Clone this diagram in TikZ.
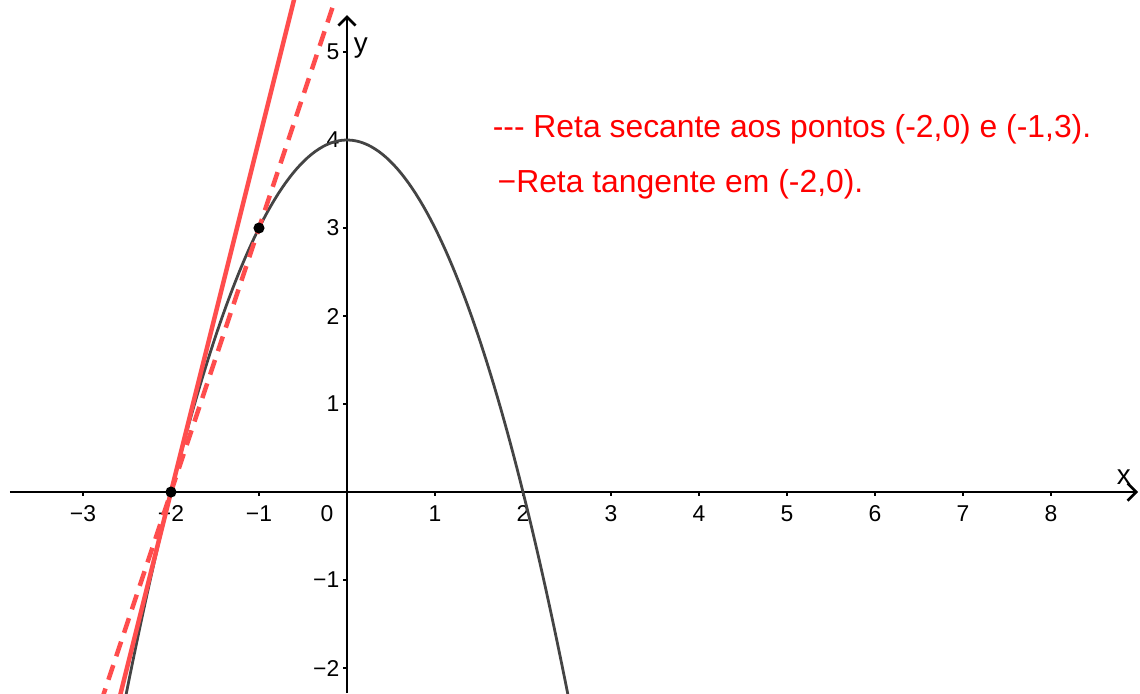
\documentclass[tikz,border=0pt]{standalone}
\usepackage{fontspec}
\setmainfont{Liberation Sans}
\usepackage{xcolor}
\usepackage{tikz}
\usetikzlibrary{arrows.meta}
\definecolor{curvegray}{RGB}{68,68,68}
\definecolor{linered}{RGB}{255,77,77}

\begin{document}
\begin{tikzpicture}[>={Straight Barb[length=2.8pt,width=5.6pt]},
    axis/.style={line width=0.85pt, ->},
    ticklabel/.style={font=\fontsize{7.4}{8}\selectfont, inner sep=0pt},
    axislabel/.style={font=\fontsize{9}{10}\selectfont, inner sep=0pt, anchor=base west},
    legend/.style={font=\fontsize{10.3}{12}\selectfont, text=red, inner sep=0pt, anchor=base west},
    dot/.style={circle, fill=black, inner sep=0pt, minimum size=3.6pt}]
        \useasboundingbox (-3.943,-2.284) rectangle (9.011,5.591);
        % axes
        \draw[axis] (-3.83,0) -- (8.99,0);
        \draw[axis] (0,-2.284) -- (0,5.42);
        \node[axislabel] (xlab) at (8.74,0.08) {x};
        \node[axislabel] (ylab) at (0.07,4.99) {y};
        % ticks on x
        \foreach \x/\t in {-3/−3,-2/−2,-1/−1,1/1,2/2,3/3,4/4,5/5,6/6,7/7,8/8} {
            \draw[line width=0.6pt] (\x,0) -- (\x,-0.045);
            \node[ticklabel] at (\x,-0.245) {\t};
        }
        \node[ticklabel] (orig) at (-0.227,-0.245) {0};
        % ticks on y
        \foreach \y/\t in {-2/−2,-1/−1,1/1,2/2,3/3,4/4,5/5} {
            \draw[line width=0.6pt] (0,\y) -- (-0.045,\y);
            \node[ticklabel, anchor=east] at (-0.08,\y) {\t};
        }
        % curves
        \begin{scope}
            \clip (-3.943,-2.284) rectangle (9.011,5.591);
            \draw[curvegray, line width=0.9pt, domain=-2.52:2.52, samples=120] plot (\x,{4-\x*\x});
            \draw[linered, line width=1.45pt] (-2.6,-2.4) -- (-0.57,5.72);
            \draw[linered, line width=1.45pt, dash pattern=on 5pt off 3pt] (-2.8,-2.4) -- (-0.09,5.73);
        \end{scope}
        \node[dot] (pa) at (-2,0) {};
        \node[dot] (pb) at (-1,3) {};
        % legend
        \node[legend] (sec) at (1.65,4.03) {-\kern0pt-\kern0pt- Reta secante aos pontos (-2,0) e (-1,3).};
        \node[legend] (tan) at (1.705,3.40) {−Reta tangente em (-2,0).};
      \end{tikzpicture}
\end{document}
